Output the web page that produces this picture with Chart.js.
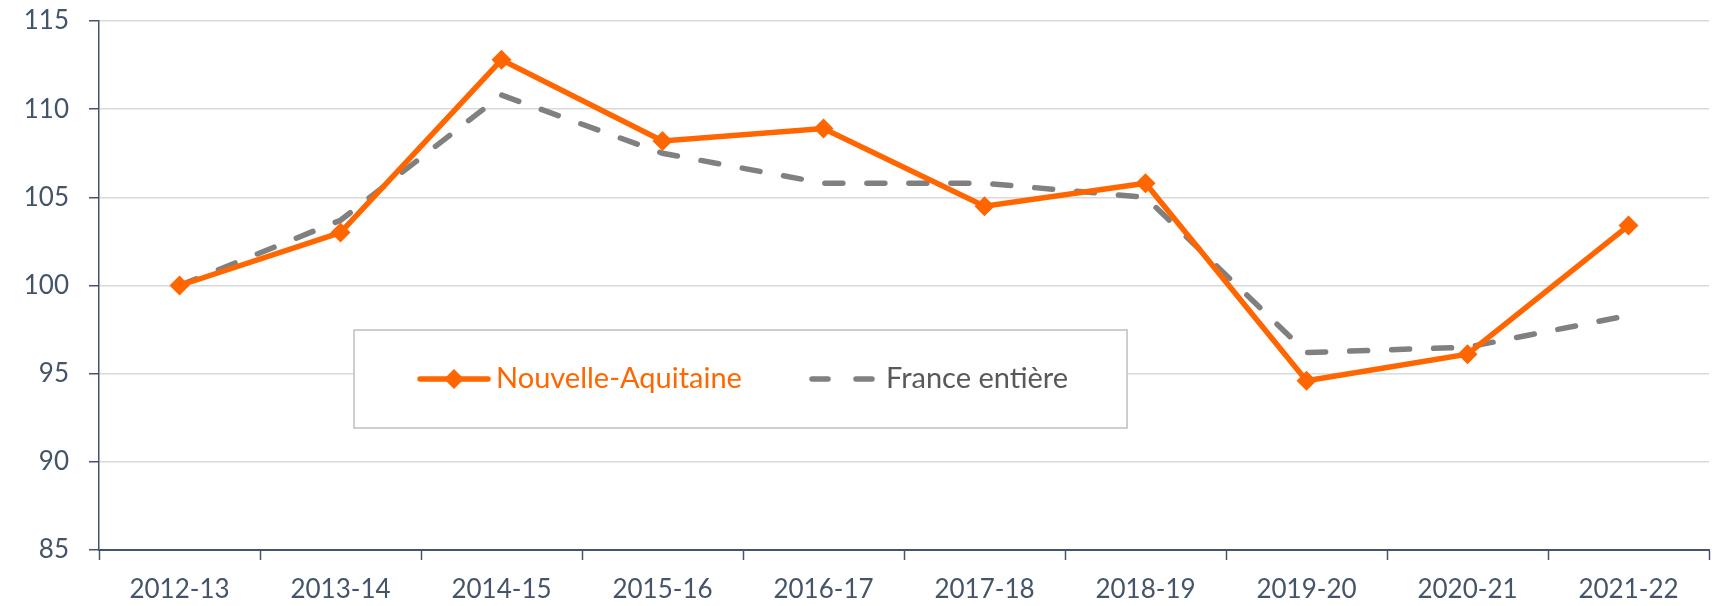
<!DOCTYPE html>
<html>
<head>
<meta charset="utf-8">
<script src="https://cdn.jsdelivr.net/npm/chart.js@4.4.1/dist/chart.umd.min.js"></script>
<style>
  html, body { margin: 0; padding: 0; background: #ffffff; }
  #wrap { width: 1719px; height: 606px; }
</style>
</head>
<body>
<div id="wrap"><canvas id="c" width="1719" height="606"></canvas></div>
<script>
const categories = ['2012-13', '2013-14', '2014-15', '2015-16', '2016-17', '2017-18', '2018-19', '2019-20', '2020-21', '2021-22'];
const nouvelleAquitaine = [100, 103.0, 112.8, 108.2, 108.9, 104.5, 105.8, 94.6, 96.1, 103.4];
const franceEntiere = [100, 103.7, 110.8, 107.5, 105.8, 105.8, 105.0, 96.2, 96.5, 98.3];
const yTicks = [85, 90, 95, 100, 105, 110, 115];
const seriesNames = ['Nouvelle-Aquitaine', 'France entière'];

const ORANGE = '#FF6600';
const GREY = '#808080';
const AXIS = '#44546A';
const FONT = 'Lato, "Open Sans", sans-serif';

const legendBox = {
  id: 'legendBox',
  beforeDatasetsDraw(chart) {
    const ctx = chart.ctx;
    ctx.save();
    const bx = 354, by = 330, bw = 773, bh = 98;
    ctx.fillStyle = '#ffffff';
    ctx.fillRect(bx, by, bw, bh);
    ctx.strokeStyle = '#bfbfbf';
    ctx.lineWidth = 1.5;
    ctx.strokeRect(bx, by, bw, bh);
    const cy = 379;
    const ds = chart.data.datasets;
    // item 1
    ctx.strokeStyle = ds[0].borderColor;
    ctx.lineWidth = 5.5;
    ctx.lineCap = 'round';
    ctx.beginPath(); ctx.moveTo(420, cy); ctx.lineTo(488, cy); ctx.stroke();
    ctx.fillStyle = ds[0].borderColor;
    ctx.beginPath();
    const r = 10;
    ctx.moveTo(454, cy - r); ctx.lineTo(454 + r, cy); ctx.lineTo(454, cy + r); ctx.lineTo(454 - r, cy); ctx.closePath();
    ctx.fill();
    ctx.font = '29px ' + FONT;
    ctx.textBaseline = 'middle';
    ctx.textAlign = 'left';
    ctx.fillText(ds[0].label, 496, cy);
    // item 2
    ctx.strokeStyle = ds[1].borderColor;
    ctx.setLineDash([16, 28]);
    ctx.lineCap = 'round';
    ctx.beginPath(); ctx.moveTo(812, cy); ctx.lineTo(872, cy); ctx.stroke();
    ctx.setLineDash([]);
    ctx.fillStyle = '#595959';
    ctx.fillText(ds[1].label, 886, cy);
    ctx.restore();
  }
};

new Chart(document.getElementById('c'), {
  type: 'line',
  data: {
    labels: categories,
    datasets: [
      {
        label: seriesNames[0],
        data: nouvelleAquitaine,
        borderColor: ORANGE,
        backgroundColor: ORANGE,
        borderWidth: 5.5,
        pointStyle: 'rectRot',
        pointRadius: 10,
        pointBorderWidth: 0,
        pointBackgroundColor: ORANGE,
        tension: 0,
        order: 0
      },
      {
        label: seriesNames[1],
        data: franceEntiere,
        borderColor: GREY,
        backgroundColor: GREY,
        borderWidth: 5.5,
        borderDash: [18, 24],
        borderCapStyle: 'round',
        pointRadius: 0,
        tension: 0,
        order: 1
      }
    ]
  },
  options: {
    responsive: false,
    animation: false,
    layout: { padding: { top: 21, right: 5, left: 0, bottom: 0 } },
    plugins: { legend: { display: false }, tooltip: { enabled: false } },
    scales: {
      x: {
        type: 'category',
        offset: true,
        grid: { offset: true, drawOnChartArea: false, tickLength: 10, tickColor: AXIS, tickWidth: 1.5 },
        border: { color: AXIS, width: 2 },
        ticks: { color: AXIS, font: { family: FONT, size: 26 }, padding: 14, maxRotation: 0, autoSkip: false },
        afterFit: s => { s.height = 56; s.paddingLeft = 0; s.paddingRight = 0; }
      },
      y: {
        min: 85,
        max: 115,
        afterBuildTicks: s => { s.ticks = yTicks.map(v => ({ value: v })); },
        grid: { color: '#d9d9d9', lineWidth: 1.5, tickLength: 10, tickColor: AXIS },
        border: { color: AXIS, width: 1.5 },
        ticks: { color: AXIS, font: { family: FONT, size: 26 }, padding: 20 },
        afterFit: s => { s.width = 99; s.paddingTop = 0; s.paddingBottom = 0; }
      }
    }
  },
  plugins: [legendBox]
});
</script>
</body>
</html>
